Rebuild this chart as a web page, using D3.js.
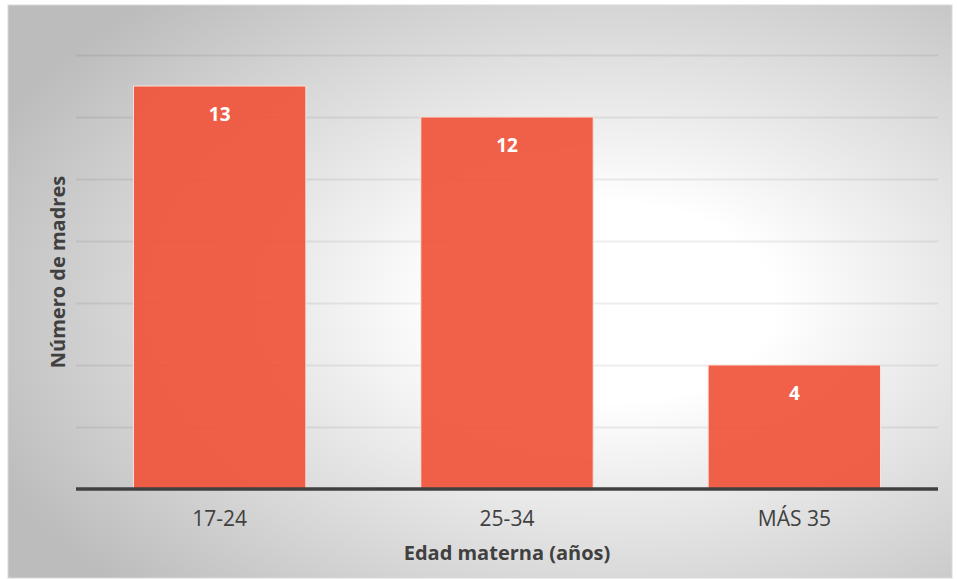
<!DOCTYPE html>
<html>
<head>
<meta charset="utf-8">
<script src="https://cdn.jsdelivr.net/npm/d3@7"></script>
<style>
  html, body { margin: 0; padding: 0; background: #ffffff; }
  svg { display: block; }
</style>
</head>
<body>
<svg id="chart" width="957" height="579"></svg>
<script>
// Mothers by age group
const categories = ["17-24", "25-34", "MÁS 35"];
const values = [13, 12, 4];
const gridTicks = [2, 4, 6, 8, 10, 12, 14];
const xTitle = "Edad materna (años)";
const yTitle = "Número de madres";

const W = 957, H = 579;
const frame = { x: 8, y: 5, w: 944, h: 573 };
const plot = { left: 76, right: 938, top: 55, bottom: 489 };
const fontFamily = "'Open Sans', 'Liberation Sans', sans-serif";

const svg = d3.select("#chart");
const defs = svg.append("defs");

// Soft radial backdrop
const bg = defs.append("radialGradient")
  .attr("id", "bgGrad")
  .attr("cx", 0.64).attr("cy", 0.52).attr("r", 0.72);
bg.append("stop").attr("offset", 0).attr("stop-color", "#ffffff");
bg.append("stop").attr("offset", 0.24).attr("stop-color", "#ffffff");
bg.append("stop").attr("offset", 1).attr("stop-color", "#bcbcbc");

// Grid lines fade towards the top
const gg = defs.append("linearGradient")
  .attr("id", "gridGrad")
  .attr("gradientUnits", "userSpaceOnUse")
  .attr("x1", 0).attr("y1", plot.top).attr("x2", 0).attr("y2", plot.bottom);
gg.append("stop").attr("offset", 0).attr("stop-color", "#000").attr("stop-opacity", 0.07);
gg.append("stop").attr("offset", 1).attr("stop-color", "#000").attr("stop-opacity", 0.5);

svg.append("rect")
  .attr("x", frame.x).attr("y", frame.y)
  .attr("width", frame.w).attr("height", frame.h)
  .attr("fill", "url(#bgGrad)")
  .attr("stroke", "#d9d9d9").attr("stroke-width", 1);

const x = d3.scaleBand()
  .domain(categories)
  .range([plot.left, plot.right])
  .paddingInner(0.4)
  .paddingOuter(0.2);

const y = d3.scaleLinear()
  .domain([0, 14])
  .range([plot.bottom, plot.top]);

// Horizontal grid
const grid = d3.axisLeft(y)
  .tickValues(gridTicks)
  .tickSize(-(plot.right - plot.left))
  .tickFormat("");
const gGrid = svg.append("g")
  .attr("transform", `translate(${plot.left},0)`)
  .call(grid);
gGrid.select(".domain").remove();
gGrid.selectAll(".tick line")
  .attr("stroke", "url(#gridGrad)")
  .attr("stroke-width", 2);

// Bars
svg.append("g").selectAll("rect")
  .data(categories)
  .join("rect")
  .attr("x", d => x(d))
  .attr("y", (d, i) => y(values[i]))
  .attr("width", x.bandwidth())
  .attr("height", (d, i) => y(0) - y(values[i]))
  .attr("fill", "#f0553c")
  .attr("fill-opacity", 0.93)
  .attr("stroke", "#fbe3de")
  .attr("stroke-width", 1);

// Value labels inside bars
svg.append("g").selectAll("text")
  .data(categories)
  .join("text")
  .attr("x", d => x(d) + x.bandwidth() / 2)
  .attr("y", (d, i) => y(values[i]) + 35)
  .attr("text-anchor", "middle")
  .attr("fill", "#ffffff")
  .attr("font-family", fontFamily)
  .attr("font-weight", 700)
  .attr("font-size", 19)
  .text((d, i) => values[i]);

// X axis
const xAxis = d3.axisBottom(x).tickSize(0).tickPadding(22);
const gX = svg.append("g")
  .attr("transform", `translate(0,${plot.bottom})`)
  .call(xAxis);
gX.select(".domain")
  .attr("stroke", "#404040")
  .attr("stroke-width", 3.5)
  .attr("d", `M${plot.left},0H${plot.right}`);
gX.selectAll(".tick text")
  .attr("fill", "#404040")
  .attr("font-family", fontFamily)
  .attr("font-size", 21);

// Axis titles
svg.append("text")
  .attr("x", (plot.left + plot.right) / 2)
  .attr("y", 560)
  .attr("text-anchor", "middle")
  .attr("fill", "#404040")
  .attr("font-family", fontFamily)
  .attr("font-weight", 700)
  .attr("font-size", 20)
  .text(xTitle);

svg.append("text")
  .attr("transform", `translate(65,${(plot.top + plot.bottom) / 2}) rotate(-90)`)
  .attr("text-anchor", "middle")
  .attr("fill", "#404040")
  .attr("font-family", fontFamily)
  .attr("font-weight", 700)
  .attr("font-size", 20)
  .text(yTitle);
</script>
</body>
</html>
